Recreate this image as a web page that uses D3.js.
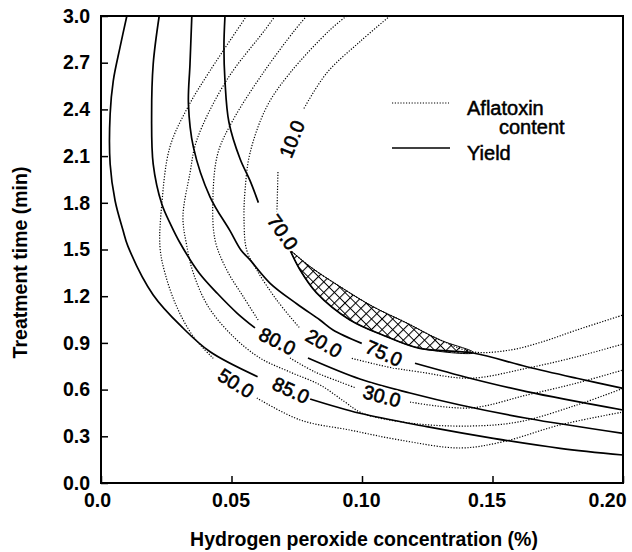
<!DOCTYPE html>
<html>
<head>
<meta charset="utf-8">
<script src="https://cdn.jsdelivr.net/npm/d3@7"></script>
<style>
  body { margin: 0; background: #fff; }
  text { font-family: "Liberation Sans", Arial, sans-serif; }
</style>
</head>
<body>
<div id="my_dataviz"></div>
<script>

// contour lines: [H2O2 %, time min], null = gap for a label
var yield85 = [[0.0099,3.0],[0.0073,2.80],[0.0047,2.584],[0.0035,2.37],[0.0035,2.049],[0.0054,1.813],[0.0084,1.625],[0.0103,1.522],[0.0200,1.208],[0.0315,0.994],[0.0418,0.843],[0.0600,0.683],
  null,[0.0801,0.540],[0.0992,0.448],[0.1248,0.362],[0.1503,0.287],[0.1759,0.223],[0.2,0.180]];
var yield80 = [[0.0223,3.0],[0.0200,2.692],[0.0194,2.370],[0.0200,2.049],[0.0233,1.792],[0.0268,1.657],[0.0303,1.542],[0.0376,1.349],[0.0448,1.214],[0.0521,1.092],[0.0590,0.996],
  null,[0.0793,0.803],[0.0992,0.668],[0.1184,0.578],[0.1376,0.501],[0.1631,0.416],[0.2,0.319]];
var yield75 = [[0.0348,3.0],[0.0341,2.692],[0.0335,2.435],[0.0354,2.158],[0.0418,1.837],[0.0494,1.621],[0.0536,1.497],[0.0571,1.433],[0.0648,1.283],[0.0751,1.150],[0.0839,1.047],[0.0889,0.983],[0.0999,0.897],
  null,[0.1203,0.769],[0.1414,0.673],[0.1631,0.587],[0.2,0.469]];
var yield70 = [[0.0475,3.0],[0.0471,2.801],[0.0475,2.584],[0.0490,2.319],[0.0533,2.081],[0.0571,1.942],[0.0603,1.801],
  null,[0.0724,1.497],[0.0763,1.368],[0.0826,1.221],[0.0954,1.047],[0.1095,0.940],[0.1222,0.865],[0.1425,0.835],[0.1631,0.747],[0.1823,0.673],[0.2,0.608]];

var afla50 = [[0.0558,3.0],[0.0418,2.649],[0.0333,2.415],[0.0264,2.158],[0.0233,1.792],[0.0226,1.516],[0.0245,1.349],[0.0290,1.133],[0.0354,0.940],[0.0430,0.801],
  null,[0.0597,0.546],[0.0763,0.405],[0.0954,0.340],[0.1146,0.276],[0.1376,0.225],[0.1540,0.265],[0.1759,0.373],[0.2,0.456]];
var afla40 = [[0.0667,3.0],[0.0628,2.910],[0.0482,2.589],[0.0367,2.203],[0.0341,1.991],[0.0314,1.711],[0.0328,1.529],[0.0354,1.347],[0.0411,1.133],[0.0507,0.940],[0.0609,0.803],[0.0724,0.713],[0.0839,0.630],[0.0935,0.520],[0.0999,0.450],[0.1184,0.385],[0.1414,0.366],[0.1605,0.394],[0.1823,0.501],[0.2,0.608]];
var afla30 = [[0.0788,3.0],[0.0743,2.910],[0.0621,2.634],[0.0506,2.332],[0.0448,2.120],[0.0429,1.839],[0.0437,1.561],[0.0482,1.368],[0.0545,1.197],[0.0602,1.047],
  null,[0.0724,0.803],[0.0820,0.713],[0.0916,0.649],[0.0977,0.610],
  null,[0.1184,0.520],[0.1414,0.482],[0.1631,0.565],[0.1823,0.642],[0.2,0.726]];
var afla20 = [[0.0941,3.0],[0.0877,2.910],[0.0724,2.634],[0.0635,2.417],[0.0571,2.120],[0.0552,1.882],[0.0548,1.690],[0.0558,1.497],[0.0597,1.368],[0.0673,1.176],[0.0762,0.994],
  null,[0.0961,0.801],[0.1095,0.747],[0.1222,0.713],[0.1414,0.673],[0.1631,0.737],[0.1823,0.811],[0.2,0.893]];
var afla10 = [[0.1107,3.0],[0.0992,2.835],[0.0865,2.634],[0.0774,2.396],
  null,[0.0678,1.998],[0.0674,1.728],
  null,[0.0724,1.497],[0.0801,1.390],[0.0916,1.261],[0.1042,1.133],[0.1171,1.028],[0.1299,0.919],[0.1425,0.842],[0.1567,0.854],[0.1693,0.908],[0.1823,0.983],[0.2,1.079]];

// contour labels: text, x, y, rotation
var labels = [
  ["10.0", 0.0731, 2.210, -68],
  ["70.0", 0.0697, 1.612, 55],
  ["80.0", 0.0676, 0.912, 27],
  ["20.0", 0.0854, 0.899, 30],
  ["75.0", 0.1084, 0.835, 24],
  ["30.0", 0.1076, 0.559, 15],
  ["85.0", 0.0728, 0.597, 25],
  ["50.0", 0.0517, 0.642, 32]
];

var xTicks = [0, 0.05, 0.10, 0.15, 0.20];
var xTickLabels = ["0.0", "0.05", "0.10", "0.15", "0.20"];
var yTicks = [0, 0.3, 0.6, 0.9, 1.2, 1.5, 1.8, 2.1, 2.4, 2.7, 3.0];

// set the dimensions and margins of the graph
var margin = {top: 16, right: 9, bottom: 69, left: 101},
    width = 632 - margin.left - margin.right,
    height = 552 - margin.top - margin.bottom;

var svg = d3.select("#my_dataviz")
  .append("svg")
    .attr("width", 632)
    .attr("height", 552)
  .append("g")
    .attr("transform", "translate(" + margin.left + "," + margin.top + ")");

var x = d3.scaleLinear().domain([0, 0.2]).range([0, width]);
var y = d3.scaleLinear().domain([0, 3]).range([height, 0]);

var line = d3.line()
  .defined(function(d) { return d; })
  .x(function(d) { return x(d[0]); })
  .y(function(d) { return y(d[1]); })
  .curve(d3.curveCatmullRom.alpha(0.5));

// hatch pattern
var defs = svg.append("defs");
defs.append("pattern")
    .attr("id", "hatch")
    .attr("patternUnits", "userSpaceOnUse")
    .attr("width", 7.5)
    .attr("height", 7.5)
    .attr("patternTransform", "rotate(45)")
  .append("path")
    .attr("d", "M0,0.5H7.5M0.5,0V7.5")
    .attr("stroke", "#000")
    .attr("stroke-width", 1.1);

// hatched region between aflatoxin 10 and yield 70 (last pieces of both lines)
var top10 = afla10.slice(afla10.lastIndexOf(null) + 1).filter(function(d) { return d[0] <= 0.1425; });
var bottom70 = yield70.slice(yield70.lastIndexOf(null) + 1).filter(function(d) { return d[0] <= 0.1425; }).reverse();
svg.append("path")
  .attr("d", line(top10.concat(bottom70)) + "Z")
  .attr("fill", "url(#hatch)")
  .attr("stroke", "#000")
  .attr("stroke-width", 1);

// aflatoxin contours (dotted)
svg.selectAll("afla")
  .data([afla50, afla40, afla30, afla20, afla10])
  .enter()
  .append("path")
    .attr("d", line)
    .attr("fill", "none")
    .attr("stroke", "#000")
    .attr("stroke-width", 1.2)
    .attr("stroke-dasharray", "1.2,1.6");

// yield contours (solid)
svg.selectAll("yield")
  .data([yield85, yield80, yield75, yield70])
  .enter()
  .append("path")
    .attr("d", line)
    .attr("fill", "none")
    .attr("stroke", "#000")
    .attr("stroke-width", 1.7);

// contour labels: white halo first, then the text itself
function placeLabel(d) { return "translate(" + x(d[1]) + "," + y(d[2]) + ")rotate(" + d[3] + ")"; }
svg.selectAll("halo")
  .data(labels)
  .enter()
  .append("text")
    .attr("transform", placeLabel)
    .attr("text-anchor", "middle")
    .attr("dominant-baseline", "central")
    .attr("font-size", 19.5)
    .attr("fill", "#fff")
    .attr("stroke", "#fff")
    .attr("stroke-width", 5)
    .text(function(d) { return d[0]; });
svg.selectAll("clabel")
  .data(labels)
  .enter()
  .append("text")
    .attr("transform", placeLabel)
    .attr("text-anchor", "middle")
    .attr("dominant-baseline", "central")
    .attr("font-size", 19.5)
    .attr("fill", "#000")
    .attr("stroke", "#000")
    .attr("stroke-width", 0.6)
    .text(function(d) { return d[0]; });

// X axis
svg.append("g")
  .attr("transform", "translate(0," + height + ")")
  .call(d3.axisBottom(x).tickValues(xTicks)
    .tickFormat(function(d, i) { return xTickLabels[i]; })
    .tickSizeInner(-7).tickSizeOuter(0).tickPadding(10))
  .call(function(g) { g.select(".domain").remove(); })
  .call(function(g) {
    g.selectAll("line").attr("stroke-width", 1.5);
    g.selectAll("text")
      .attr("font-size", 19.5)
      .attr("font-weight", "bold")
      .attr("fill", "#000")
      .attr("dx", function(d, i) { return i == 0 ? -4 : (i == 3 ? -6 : (i == 4 ? -16 : -1)); });
  });

// Y axis
svg.append("g")
  .call(d3.axisLeft(y).tickValues(yTicks).tickFormat(d3.format(".1f"))
    .tickSizeInner(-7).tickSizeOuter(0).tickPadding(11))
  .call(function(g) { g.select(".domain").remove(); })
  .call(function(g) {
    g.selectAll("line").attr("stroke-width", 1.5);
    g.selectAll("text")
      .attr("font-size", 19.5)
      .attr("font-weight", "bold")
      .attr("fill", "#000");
  });

// frame
svg.append("rect")
  .attr("width", width)
  .attr("height", height)
  .attr("fill", "none")
  .attr("stroke", "#000")
  .attr("stroke-width", 2);

// axis titles
svg.append("text")
  .attr("transform", "translate(" + (-81) + "," + (height / 2 + 13) + ")rotate(-90)")
  .attr("text-anchor", "middle")
  .attr("dominant-baseline", "central")
  .attr("font-size", 19.5)
  .attr("font-weight", "bold")
  .text("Treatment time (min)");

svg.append("text")
  .attr("x", width / 2 + 2)
  .attr("y", height + 63)
  .attr("text-anchor", "middle")
  .attr("font-size", 19.5)
  .attr("font-weight", "bold")
  .text("Hydrogen peroxide concentration (%)");

// legend
var legend = svg.append("g").attr("transform", "translate(291,87)");
legend.append("line")
  .attr("x1", 0).attr("x2", 57).attr("y1", 0).attr("y2", 0)
  .attr("stroke", "#000").attr("stroke-width", 1).attr("stroke-dasharray", "1.2,1.6");
legend.append("line")
  .attr("x1", 0).attr("x2", 58).attr("y1", 45).attr("y2", 45)
  .attr("stroke", "#000").attr("stroke-width", 1.4);
legend.selectAll("ltext")
  .data([["Aflatoxin", 75, 12], ["content", 107, 31], ["Yield", 75, 57]])
  .enter()
  .append("text")
    .attr("x", function(d) { return d[1]; })
    .attr("y", function(d) { return d[2]; })
    .attr("font-size", 20)
    .attr("stroke", "#000")
    .attr("stroke-width", 0.5)
    .text(function(d) { return d[0]; });

</script>
</body>
</html>
